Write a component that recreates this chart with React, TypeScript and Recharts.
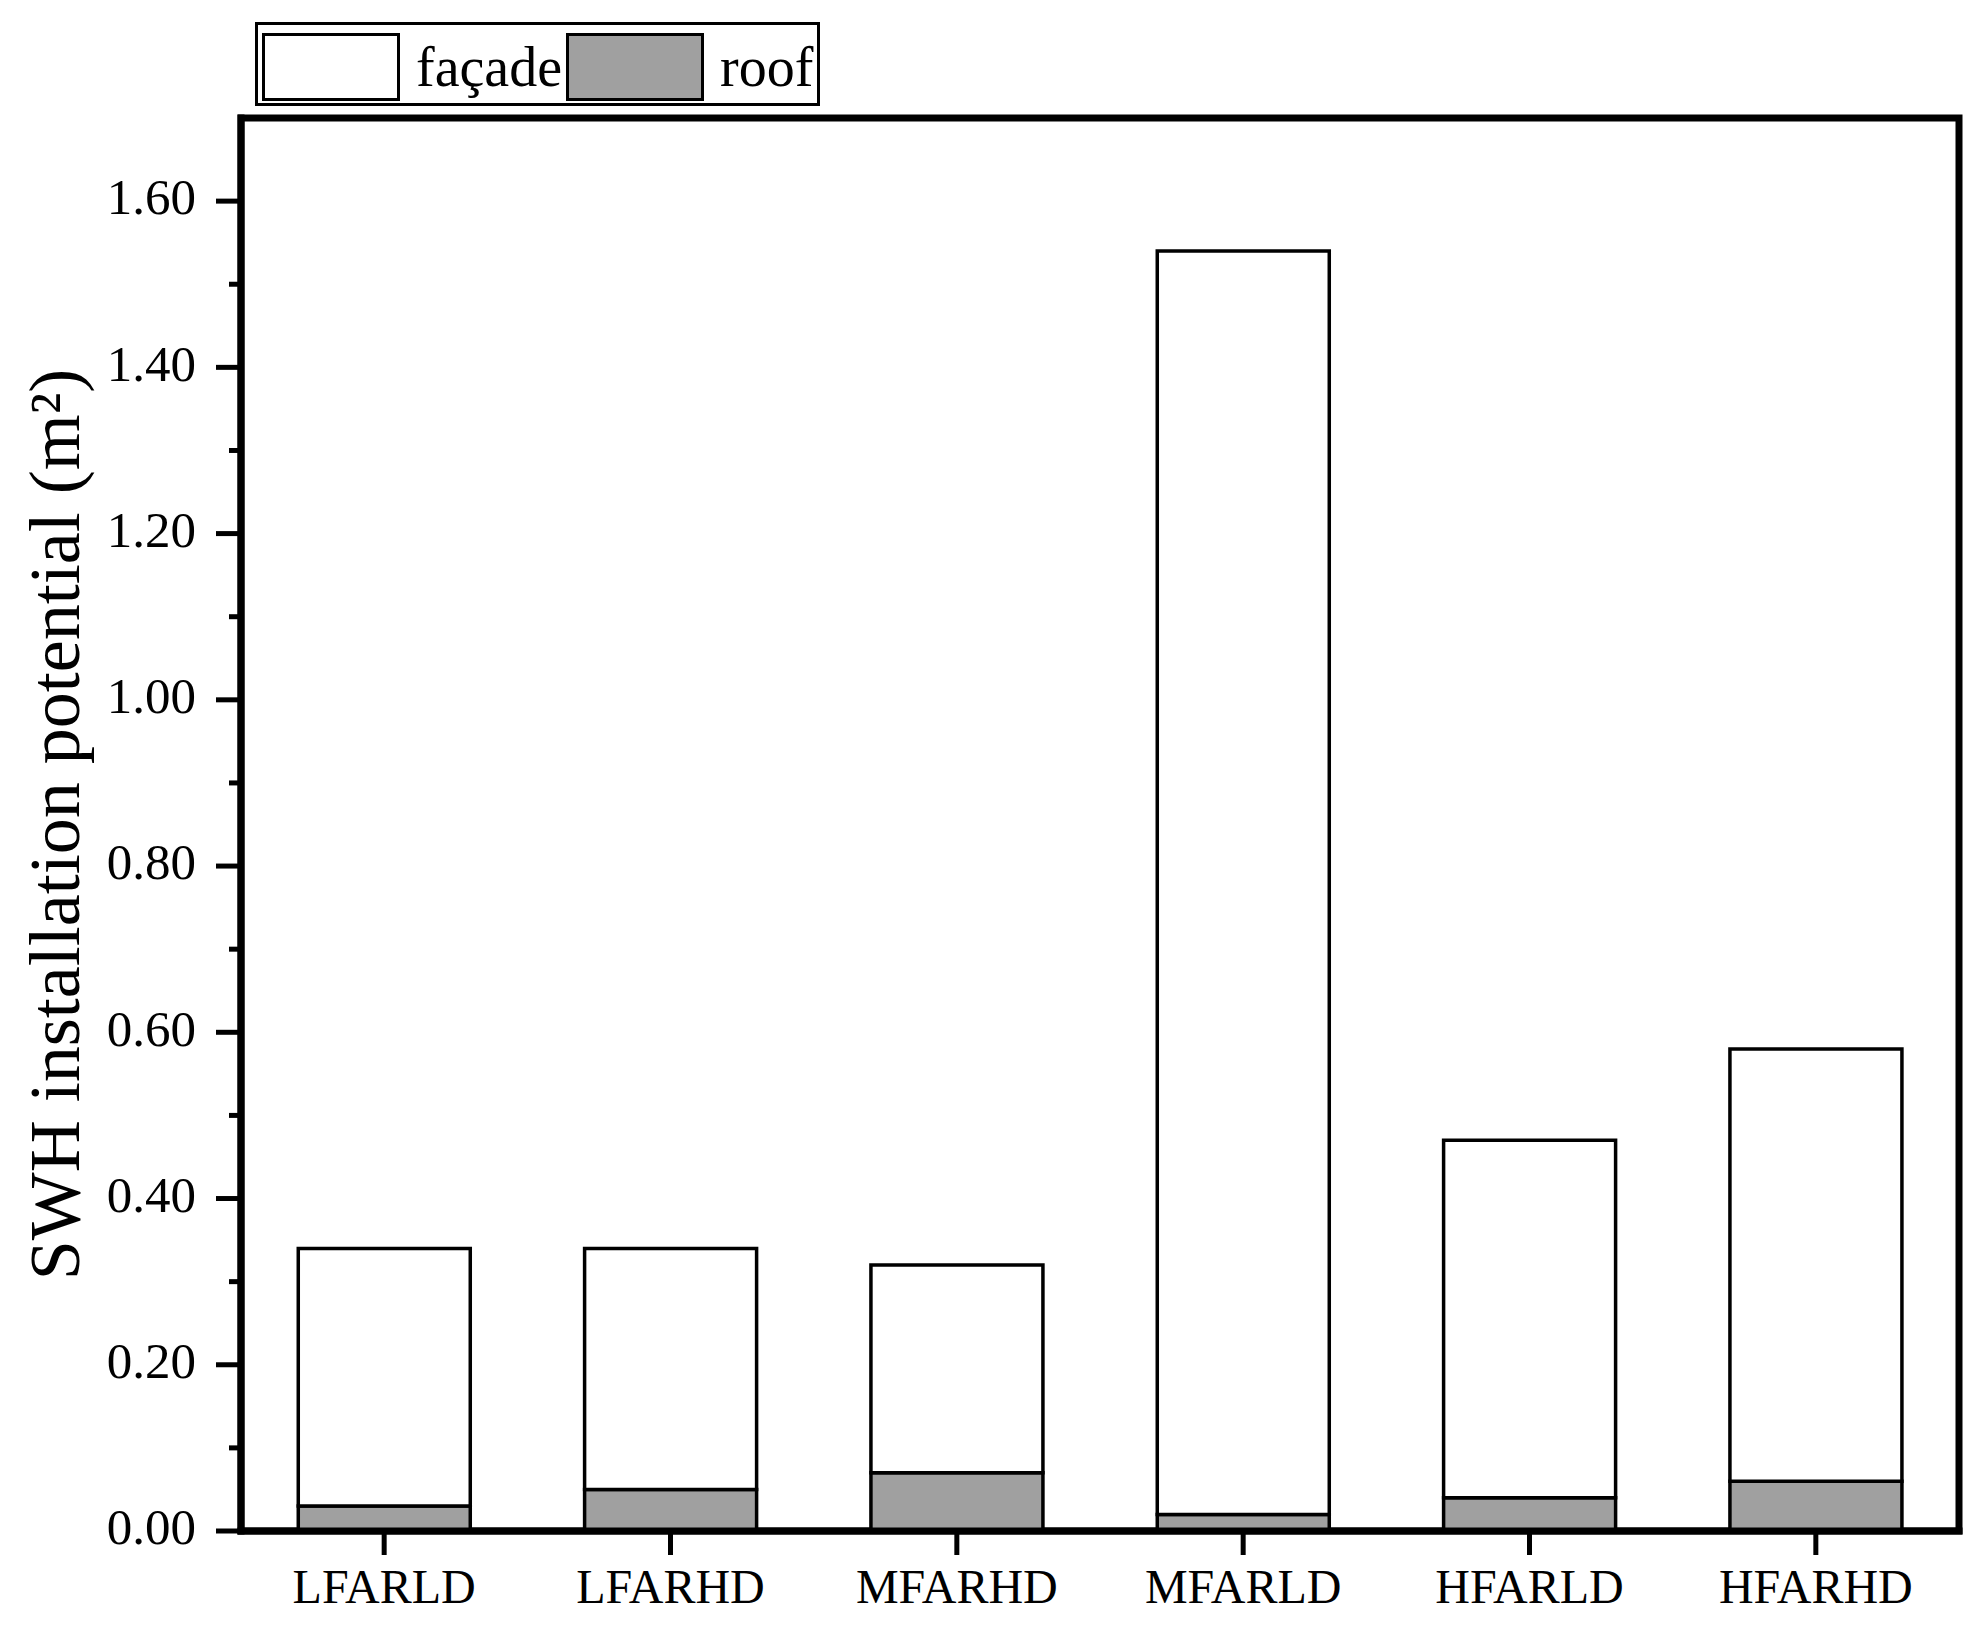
import { Bar, BarChart, ReferenceArea, XAxis, YAxis } from "recharts";

const CATEGORIES = ["LFARLD", "LFARHD", "MFARHD", "MFARLD", "HFARLD", "HFARHD"];
const ROOF = [0.03, 0.05, 0.07, 0.02, 0.04, 0.06];
const FACADE = [0.31, 0.29, 0.25, 1.52, 0.43, 0.52];
const MAJOR_TICKS = [0, 0.2, 0.4, 0.6, 0.8, 1.0, 1.2, 1.4, 1.6];
const MINOR_TICKS = [0.1, 0.3, 0.5, 0.7, 0.9, 1.1, 1.3, 1.5];
const Y_MAX = 1.7;
const Y_TITLE = "SWH installation potential (m²)";

const data = CATEGORIES.map((name, i) => ({
  name,
  roof: ROOF[i],
  facade: FACADE[i],
}));

const allTicks = [...MAJOR_TICKS, ...MINOR_TICKS].sort((a, b) => a - b);
const FONT = '"Liberation Serif", "Times New Roman", serif';

function YTick({ x, y, payload }: { x?: number; y?: number; payload?: { value: number } }) {
  if (x == null || y == null || !payload) return null;
  const major = MAJOR_TICKS.includes(payload.value);
  const len = major ? 25 : 12;
  return (
    <g>
      <line x1={x - len} y1={y} x2={x} y2={y} stroke="#000" strokeWidth={5} />
      {major && (
        <text
          x={x - len - 20}
          y={y}
          dy="0.26em"
          textAnchor="end"
          fontFamily={FONT}
          fontSize={51}
          fill="#000"
        >
          {payload.value.toFixed(2)}
        </text>
      )}
    </g>
  );
}

function YTitle({ viewBox }: { viewBox?: { x: number; y: number; width: number; height: number } }) {
  if (!viewBox) return null;
  const cy = viewBox.y + viewBox.height / 2;
  const cx = 79;
  return (
    <text
      x={cx}
      y={cy}
      textAnchor="middle"
      transform={`rotate(-90, ${cx}, ${cy})`}
      fontFamily={FONT}
      fontSize={72}
      fill="#000"
    >
      {Y_TITLE}
    </text>
  );
}

function LegendBox() {
  const swatch = (left: number, fill: string) => (
    <div
      style={{
        position: "absolute",
        left,
        top: 8,
        width: 138,
        height: 68,
        boxSizing: "border-box",
        border: "3px solid #000",
        background: fill,
      }}
    />
  );
  const label = (left: number, text: string) => (
    <span
      style={{
        position: "absolute",
        left,
        top: 10,
        fontFamily: FONT,
        fontSize: 56,
        lineHeight: "64px",
        color: "#000",
      }}
    >
      {text}
    </span>
  );
  return (
    <div
      style={{
        position: "absolute",
        left: 255,
        top: 22,
        width: 565,
        height: 84,
        boxSizing: "border-box",
        border: "3px solid #000",
        background: "#fff",
      }}
    >
      {swatch(4, "#fff")}
      {label(158, "façade")}
      {swatch(308, "#a0a0a0")}
      {label(462, "roof")}
    </div>
  );
}

export default function App() {
  return (
    <div style={{ position: "absolute", left: 0, top: 0, width: 1987, height: 1631, background: "#fff" }}>
      <BarChart
        width={1987}
        height={1631}
        data={data}
        margin={{ top: 118, right: 28, bottom: 40, left: 141 }}
        barCategoryGap="20%"
      >
        <XAxis
          dataKey="name"
          height={60}
          axisLine={{ stroke: "#000", strokeWidth: 7, strokeLinecap: "square" }}
          tickLine={{ stroke: "#000", strokeWidth: 5 }}
          tickSize={24}
          tickMargin={14}
          tick={{ fontFamily: FONT, fontSize: 48, fill: "#000" }}
        />
        <YAxis
          width={100}
          domain={[0, Y_MAX]}
          ticks={allTicks}
          interval={0}
          tickSize={0}
          tickMargin={0}
          tickLine={false}
          tick={<YTick />}
          axisLine={{ stroke: "#000", strokeWidth: 7, strokeLinecap: "square" }}
          label={<YTitle />}
        />
        <Bar
          dataKey="roof"
          stackId="a"
          fill="#a0a0a0"
          stroke="#000"
          strokeWidth={3.5}
          isAnimationActive={false}
        />
        <Bar
          dataKey="facade"
          stackId="a"
          fill="#fff"
          stroke="#000"
          strokeWidth={3.5}
          isAnimationActive={false}
        />
        <ReferenceArea
          y1={0}
          y2={Y_MAX}
          fill="none"
          fillOpacity={0}
          stroke="#000"
          strokeWidth={7}
          ifOverflow="visible"
        />
      </BarChart>
      <LegendBox />
    </div>
  );
}
